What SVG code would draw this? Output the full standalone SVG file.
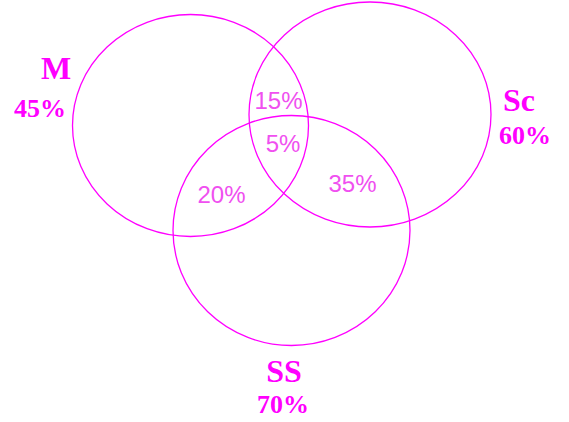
<svg xmlns="http://www.w3.org/2000/svg" width="569" height="422" viewBox="0 0 569 422">
<style>
.set{fill:none;stroke:#ff00ff;stroke-width:1.3}
.name{font-family:"Liberation Serif",serif;font-weight:bold;fill:#ff00ff;text-anchor:middle}
.pct{font-family:"Liberation Serif",serif;font-weight:bold;font-size:26px;fill:#ff00ff;text-anchor:middle}
.in{font-family:"Liberation Sans",Arial,sans-serif;font-size:24px;fill:#f050f0;text-anchor:middle}
</style>
<rect width="569" height="422" fill="#ffffff"/>
<g id="connectors"></g>
<g id="M">
<ellipse class="set" cx="190.5" cy="125.5" rx="118" ry="111"/>
<text class="name" x="56" y="79" font-size="32">M</text>
<text class="pct" x="40" y="117">45%</text>
</g>
<g id="Sc">
<ellipse class="set" cx="370" cy="114.5" rx="121" ry="112.5"/>
<text class="name" x="519" y="110.5" font-size="32">Sc</text>
<text class="pct" x="525" y="144">60%</text>
</g>
<g id="SS">
<ellipse class="set" cx="291.5" cy="230.5" rx="118.5" ry="115"/>
<text class="name" x="284" y="381.5" font-size="32">SS</text>
<text class="pct" x="283" y="413">70%</text>
</g>
<g id="regions">
<text class="in" x="278.5" y="108.5">15%</text>
<text class="in" x="283" y="152">5%</text>
<text class="in" x="221.5" y="203">20%</text>
<text class="in" x="352.5" y="192">35%</text>
</g>
</svg>
